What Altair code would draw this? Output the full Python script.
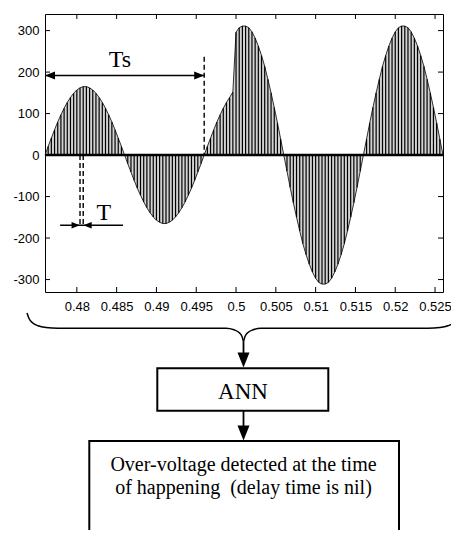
import altair as alt
import pandas as pd

# ---------------- data ----------------
t_start = 0.476          # first sample time (s)
t_step = 0.0004          # sampling interval T (s)
sample_values = [
    0, 21, 41, 61, 80, 97, 113, 127, 139, 149, 157, 162, 165, 165, 162, 157, 149, 139, 127, 113, 97, 80, 61, 41, 21, 0,
    -21, -41, -61, -80, -97, -113, -127, -139, -149, -157, -162, -165, -165, -162, -157, -149, -139, -127, -113, -97, -80, -61, -41, -21,
    0, 21, 41, 61, 80, 97, 113, 127, 139, 152, 296,
    307, 311, 311, 307, 297, 282, 263, 240, 214, 183, 150, 115, 78, 39, 0,
    -39, -78, -115, -150, -183, -214, -240, -263, -282, -297, -307, -311, -311, -307, -297, -282, -263, -240, -214, -183, -150, -115, -78, -39,
    0, 39, 78, 115, 150, 183, 214, 240, 263, 282, 297, 307, 311, 311, 307, 297, 282, 263, 240, 214, 183, 150, 115, 78, 39, 0,
]
sample_times = [round(t_start + t_step * i, 4) for i in range(len(sample_values))]

x_ticks = [0.48, 0.485, 0.49, 0.495, 0.5, 0.505, 0.51, 0.515, 0.52, 0.525]
y_ticks = [-300, -200, -100, 0, 100, 200, 300]
x_domain = [0.476, 0.526]
y_domain = [-330, 340]

# annotation values (data units)
ts_dash_t = [0.496, 0.4804, 0.4808]
ts_dash_top = [237, 0, 0]
ts_dash_bot = [0, -173, -173]
arrow_t1 = [0.476, 0.4779]
arrow_t2 = [0.496, 0.4858]
arrow_y = [192, -169]
label_t = [0.4854, 0.4834]
label_y = [213, -157]
label_txt = ["Ts", "T"]

# flow diagram below the plot (page pixel units)
diagram_texts = ["ANN", "Over-voltage detected at the time", "of happening\u00a0 (delay time is nil)"]

W, H = 398, 278

LEFT = "M0,0 L2,-0.8 L2,0.8 Z"
RIGHT = "M0,0 L-2,-0.8 L-2,0.8 Z"
LEFT_S = "M0,0 L2,-0.75 L2,0.75 Z"
RIGHT_S = "M0,0 L-2,-0.75 L-2,0.75 Z"
DOWN = "M0,0 L-0.5,-1.25 L0.5,-1.25 Z"

xs = alt.Scale(domain=x_domain, nice=False, zero=False)
ys = alt.Scale(domain=y_domain, nice=False, zero=False)
x_axis = alt.Axis(values=x_ticks, labelExpr="'' + datum.value", title=None,
                  labelFlush=False, labelOverlap=False)
y_axis = alt.Axis(values=y_ticks, labelExpr="'' + datum.value", title=None,
                  labelFlush=False, labelOverlap=False)


def X(f):
    return alt.X(f, type="quantitative", scale=xs, axis=x_axis, title=None)


def Y(f):
    return alt.Y(f, type="quantitative", scale=ys, axis=y_axis, title=None)


wave_df = pd.DataFrame({"t": sample_times, "v": sample_values, "zero": 0})

area = alt.Chart(wave_df).mark_area(color="#d2d2d2", opacity=1).encode(
    x=X("t"), y=Y("v"), y2=alt.Y2("zero"))
stems = alt.Chart(wave_df).mark_rule(color="black", strokeWidth=1.2).encode(
    x=X("t"), y=Y("v"), y2=alt.Y2("zero"))
curve = alt.Chart(wave_df).mark_line(color="black", strokeWidth=0.8).encode(
    x=X("t"), y=Y("v"))
zero_line = alt.Chart(pd.DataFrame({"z": [0]})).mark_rule(color="black", strokeWidth=2.5).encode(
    y=Y("z"))

xt_df = pd.DataFrame({"xt": x_ticks})
yt_df = pd.DataFrame({"yt": y_ticks})
tick_b = alt.Chart(xt_df).mark_rule(color="black", strokeWidth=1).encode(
    x=X("xt"), y=alt.value(H), y2=alt.value(H - 5))
tick_t = alt.Chart(xt_df).mark_rule(color="black", strokeWidth=1).encode(
    x=X("xt"), y=alt.value(0), y2=alt.value(5))
tick_l = alt.Chart(yt_df).mark_rule(color="black", strokeWidth=1).encode(
    y=Y("yt"), x=alt.value(0), x2=alt.value(5))
tick_r = alt.Chart(yt_df).mark_rule(color="black", strokeWidth=1).encode(
    y=Y("yt"), x=alt.value(W), x2=alt.value(W - 5))

dash_df = pd.DataFrame({"t": ts_dash_t, "ya": ts_dash_top, "yb": ts_dash_bot})
dashes = alt.Chart(dash_df).mark_rule(color="black", strokeWidth=1.4, strokeDash=[5, 3]).encode(
    x=X("t"), y=Y("ya"), y2=alt.Y2("yb"))

harrow_df = pd.DataFrame({"ta": arrow_t1, "tb": arrow_t2, "y": arrow_y})
harrows = alt.Chart(harrow_df).mark_rule(color="black", strokeWidth=1.5).encode(
    x=X("ta"), x2=alt.X2("tb"), y=Y("y"))

heads_df = pd.DataFrame({
    "t": [arrow_t1[0], arrow_t2[0], ts_dash_t[1], ts_dash_t[2]],
    "y": [arrow_y[0], arrow_y[0], arrow_y[1], arrow_y[1]],
    "shape": [LEFT, RIGHT, RIGHT_S, LEFT_S],
    "size": [100, 100, 72, 72],
})
heads = alt.Chart(heads_df).mark_point(filled=True, color="black", opacity=1, strokeWidth=0).encode(
    x=X("t"), y=Y("y"),
    shape=alt.Shape("shape:N", scale=None),
    size=alt.Size("size:Q", scale=None))

labels_df = pd.DataFrame({"t": label_t, "y": label_y, "label": label_txt})
labels = alt.Chart(labels_df).mark_text(font="Liberation Serif", fontSize=24, baseline="alphabetic",
                                        align="center", color="black").encode(
    x=X("t"), y=Y("y"), text="label:N")

main = alt.layer(area, stems, curve, zero_line, tick_b, tick_t, tick_l, tick_r,
                 dashes, harrows, heads, labels)

# ---------------- diagram (pixel-like canvas scales) ----------------
pxs = alt.Scale(domain=[45, 443], nice=False, zero=False)
pys = alt.Scale(domain=[14, 292], nice=False, zero=False, reverse=True)


def PX(f):
    return alt.X(f, type="quantitative", scale=pxs, axis=None, title=None)


def PY(f):
    return alt.Y(f, type="quantitative", scale=pys, axis=None, title=None)


brace_left = [(27, 313), (29, 318.5), (32.5, 322.8), (38, 325.8), (46, 327.6), (58, 328.3),
              (226, 328.3), (234, 329.8), (239, 332.5), (242, 336.5), (243.5, 341.5)]
brace_right = [(243.5, 341.5), (245, 336.5), (248, 332.5), (253, 329.8), (261, 328.3),
               (428, 328.3), (440, 327.6), (448, 325.8), (453.5, 322.8), (457, 318.5), (459, 313)]
brace_rows = []
for i, (x, y) in enumerate(brace_left):
    brace_rows.append({"x": x, "y": y, "part": "L", "i": i})
for i, (x, y) in enumerate(brace_right):
    brace_rows.append({"x": x, "y": y, "part": "R", "i": i})
brace_df = pd.DataFrame(brace_rows)
brace = alt.Chart(brace_df).mark_line(color="black", strokeWidth=1.5, interpolate="monotone").encode(
    x=PX("x"), y=PY("y"), detail="part:N", order="i:Q")

conn_df = pd.DataFrame({"x": [243.5, 243.5], "ya": [341.5, 410.7], "yb": [354, 427]})
conn = alt.Chart(conn_df).mark_rule(color="black", strokeWidth=1.8).encode(
    x=PX("x"), y=PY("ya"), y2=alt.Y2("yb"))

box_df = pd.DataFrame({"xa": [157.3, 89.3], "xb": [328.3, 399], "ya": [368.3, 441], "yb": [410.7, 620]})
boxes = alt.Chart(box_df).mark_rect(fill="white", stroke="black", strokeWidth=2).encode(
    x=PX("xa"), x2=alt.X2("xb"), y=PY("ya"), y2=alt.Y2("yb"))

dheads_df = pd.DataFrame({"x": [243.5, 243.5], "y": [367.5, 440.5]})
dheads = alt.Chart(dheads_df).mark_point(shape=DOWN, size=576, filled=True, color="black",
                                         opacity=1, strokeWidth=0).encode(
    x=PX("x"), y=PY("y"))

dtext_df = pd.DataFrame({"x": [243, 243.5, 243.5], "y": [399, 470.5, 493.5],
                         "label": diagram_texts, "size": [23, 20, 20]})
dtext = alt.Chart(dtext_df).mark_text(font="Liberation Serif", baseline="alphabetic",
                                      align="center", color="black").encode(
    x=PX("x"), y=PY("y"), text="label:N", size=alt.Size("size:Q", scale=None))

diagram = alt.layer(brace, conn, boxes, dheads, dtext)

chart = alt.layer(main, diagram).resolve_scale(
    x="independent", y="independent"
).properties(
    width=W, height=H,
    autosize=alt.AutoSizeParams(type="none"),
    padding={"left": 37, "top": 6, "right": 8, "bottom": 238},
).configure_view(
    stroke="black", strokeWidth=1
).configure_axis(
    domain=False, ticks=False, tickSize=0, grid=False,
    labelFont="Liberation Sans", labelFontSize=13, labelColor="black"
).configure_axisX(
    labelPadding=8
).configure_axisY(
    labelPadding=6
)

chart.save("out.html", embed_options={"renderer": "svg", "actions": False})
